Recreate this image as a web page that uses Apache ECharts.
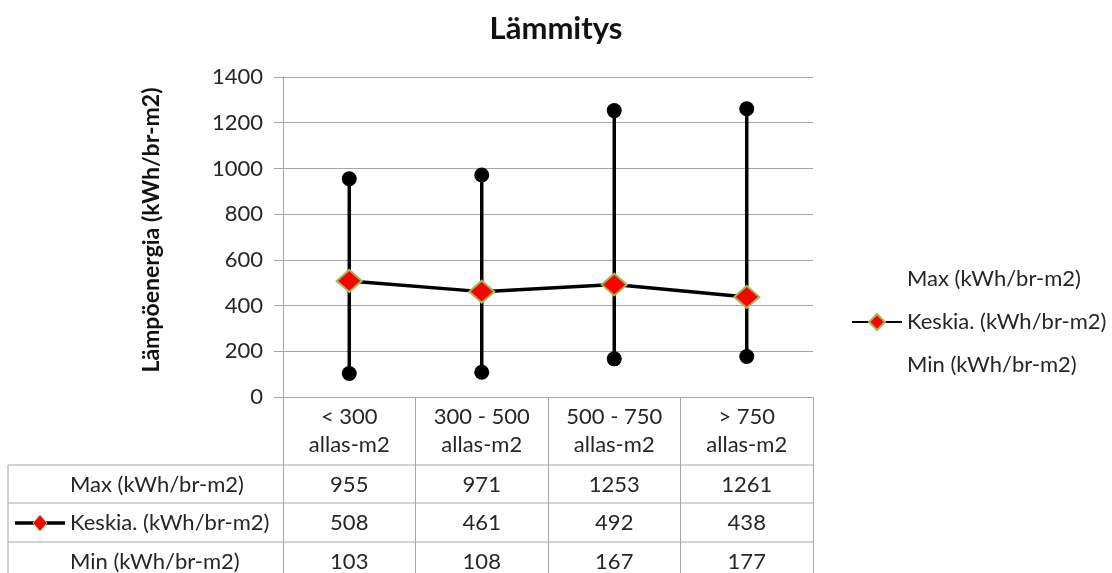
<!DOCTYPE html>
<html>
<head>
<meta charset="utf-8">
<script src="https://cdn.jsdelivr.net/npm/echarts@6/dist/echarts.min.js"></script>
<style>
  html, body { margin: 0; padding: 0; background: #fff; }
  #chart { width: 1112px; height: 573px; }
</style>
</head>
<body>
<div id="chart"></div>
<script>
// Pool size classes and heating energy figures (kWh/br-m2)
const categories = ['< 300\nallas-m2', '300 - 500\nallas-m2', '500 - 750\nallas-m2', '> 750\nallas-m2'];
const maxValues = [955, 971, 1253, 1261];
const avgValues = [508, 461, 492, 438];
const minValues = [103, 108, 167, 177];
const yTicks = [0, 200, 400, 600, 800, 1000, 1200, 1400];

const seriesNames = {
  max: 'Max (kWh/br-m2)',
  avg: 'Keskia. (kWh/br-m2)',
  min: 'Min (kWh/br-m2)'
};

const FONT = 'Lato, "Open Sans", sans-serif';
const TEXT = '#262626';
const GRID_LINE = '#a6a6a6';
const FS = 22;

const chart = echarts.init(document.getElementById('chart'));

// One hidden-line category axis per table row so the values sit in the category columns
function tableRowAxis(values, margin) {
  return {
    type: 'category',
    gridIndex: 0,
    position: 'bottom',
    data: values.map(String),
    axisLine: { show: false },
    axisTick: { show: false },
    splitLine: { show: false },
    axisLabel: {
      interval: 0,
      margin: margin,
      verticalAlign: 'middle',
      fontFamily: FONT,
      fontSize: FS,
      color: TEXT
    }
  };
}

function rowHeader(text, y) {
  return {
    type: 'text', x: 70, y: y,
    style: { text: text, font: FS + 'px ' + FONT, fill: TEXT, verticalAlign: 'middle', align: 'left' }
  };
}

function rule(x1, y1, x2, y2) {
  return { type: 'line', shape: { x1: x1, y1: y1, x2: x2, y2: y2 }, style: { stroke: GRID_LINE, lineWidth: 1 } };
}

const option = {
  backgroundColor: '#fff',
  animation: false,
  title: {
    text: 'Lämmitys',
    left: 551,
    textAlign: 'center',
    top: 8,
    textStyle: { fontFamily: FONT, fontSize: 31, fontWeight: 'bold', color: '#111' }
  },
  legend: {
    orient: 'vertical',
    left: 846,
    top: 262,
    itemWidth: 50,
    itemHeight: 20,
    itemGap: 19,
    selectedMode: false,
    textStyle: { fontFamily: FONT, fontSize: FS, lineHeight: 24, color: TEXT },
    data: [
      { name: seriesNames.max, icon: 'none' },
      { name: seriesNames.avg },
      { name: seriesNames.min, icon: 'none' }
    ]
  },
  grid: { left: 283, right: 299, top: 77, bottom: 176 },
  xAxis: [
    {
      type: 'category',
      data: categories,
      boundaryGap: true,
      axisLine: { show: true, lineStyle: { color: GRID_LINE, width: 1 } },
      axisTick: { show: true, interval: 0, length: 176, lineStyle: { color: GRID_LINE, width: 1 } },
      axisLabel: {
        interval: 0,
        margin: 34,
        verticalAlign: 'middle',
        lineHeight: 28,
        fontFamily: FONT,
        fontSize: FS,
        color: TEXT
      }
    },
    tableRowAxis(maxValues, 88),
    tableRowAxis(avgValues, 126),
    tableRowAxis(minValues, 165)
  ],
  yAxis: {
    type: 'value',
    min: yTicks[0],
    max: yTicks[yTicks.length - 1],
    interval: yTicks[1] - yTicks[0],
    name: 'Lämpöenergia (kWh/br-m2)',
    nameLocation: 'middle',
    nameRotate: 90,
    nameGap: 120,
    nameTextStyle: {
      fontFamily: FONT, fontSize: 23, fontWeight: 'bold', color: '#111',
      padding: [0, 0, 0, 14]
    },
    axisLine: { show: true, lineStyle: { color: GRID_LINE, width: 1 } },
    axisTick: { show: true, length: 9, lineStyle: { color: GRID_LINE } },
    axisLabel: {
      margin: 20, fontFamily: FONT, fontSize: FS, color: TEXT,
      formatter: function (v) { return String(v); }
    },
    splitLine: { show: true, lineStyle: { color: GRID_LINE, width: 1 } }
  },
  series: [
    {
      // High-low bars from min to max in each class
      name: 'range',
      type: 'custom',
      z: 1,
      data: categories.map((c, i) => [i, minValues[i], maxValues[i]]),
      encode: { x: 0, y: [1, 2] },
      renderItem: function (params, api) {
        const lo = api.coord([api.value(0), api.value(1)]);
        const hi = api.coord([api.value(0), api.value(2)]);
        return {
          type: 'line',
          shape: { x1: lo[0], y1: lo[1], x2: hi[0], y2: hi[1] },
          style: { stroke: '#000', lineWidth: 3.5 }
        };
      }
    },
    {
      name: seriesNames.max,
      type: 'scatter',
      z: 2,
      data: maxValues,
      symbol: 'circle',
      symbolSize: 15,
      itemStyle: { color: '#000', opacity: 1 }
    },
    {
      name: seriesNames.min,
      type: 'scatter',
      z: 2,
      data: minValues,
      symbol: 'circle',
      symbolSize: 15,
      itemStyle: { color: '#000', opacity: 1 }
    },
    {
      name: seriesNames.avg,
      type: 'line',
      z: 3,
      data: avgValues,
      symbol: 'diamond',
      symbolSize: [25, 22],
      lineStyle: { color: '#000', width: 3.5 },
      itemStyle: { color: '#ff0000', borderColor: '#9bbb59', borderWidth: 2 }
    }
  ],
  graphic: [
    // Data table rules and row headers
    rule(8, 465, 813, 465),
    rule(8, 503, 813, 503),
    rule(8, 542, 813, 542),
    rule(8, 465, 8, 573),
    rowHeader(seriesNames.max, 485),
    rowHeader(seriesNames.avg, 523),
    rowHeader(seriesNames.min, 562),
    { type: 'line', shape: { x1: 15, y1: 523, x2: 65, y2: 523 }, style: { stroke: '#000', lineWidth: 3.5 } },
    {
      type: 'polygon',
      shape: { points: [[40, 515], [47, 523], [40, 531], [33, 523]] },
      style: { fill: '#ff0000', stroke: '#9bbb59', lineWidth: 1 }
    }
  ]
};

chart.setOption(option);
</script>
</body>
</html>
